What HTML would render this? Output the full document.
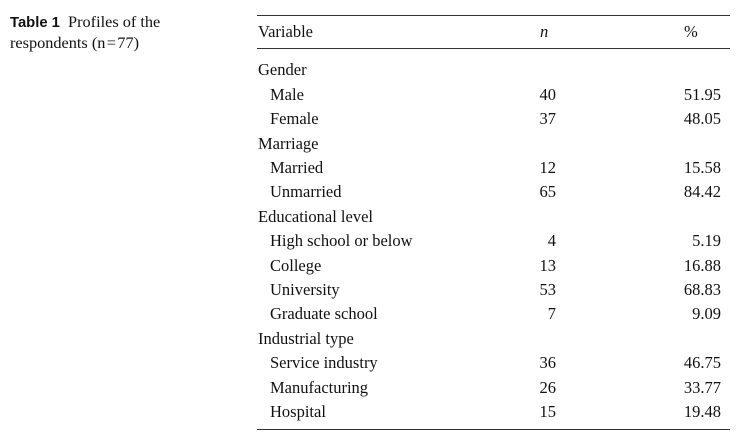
<!DOCTYPE html>
<html><head><meta charset="utf-8"><style>
body{margin:0;width:748px;height:446px;background:#fff;position:relative;overflow:hidden;font-family:"Liberation Serif",serif;font-size:16.5px;color:#111}
.t{position:absolute;height:20px;line-height:20px;white-space:nowrap}
.r{text-align:right}
.rule{position:absolute;left:257px;width:473px;height:1.4px;background:#333}
.cap{position:absolute;left:10px;top:12px;font-size:16.3px;line-height:20px}
.cap b{font-family:"Liberation Sans",sans-serif;font-size:14.8px}
</style></head><body>
<div class="cap"><b>Table 1</b>&nbsp;&nbsp;Profiles of the<br>respondents (n&#8202;=&#8202;77)</div>
<div class="rule" style="top:15px"></div>
<div class="rule" style="top:48px"></div>
<div class="rule" style="top:429px"></div>
<div class="t" style="left:258px;top:22px">Variable</div>
<div class="t" style="left:540px;top:22px;font-style:italic">n</div>
<div class="t" style="left:684px;top:22px">%</div>

<div class="t" style="left:258px;top:60px">Gender</div>
<div class="t" style="left:270px;top:85px">Male</div>
<div class="t" style="left:270px;top:109px">Female</div>
<div class="t" style="left:258px;top:134px">Marriage</div>
<div class="t" style="left:270px;top:158px">Married</div>
<div class="t" style="left:270px;top:182px">Unmarried</div>
<div class="t" style="left:258px;top:207px">Educational level</div>
<div class="t" style="left:270px;top:231px">High school or below</div>
<div class="t" style="left:270px;top:256px">College</div>
<div class="t" style="left:270px;top:280px">University</div>
<div class="t" style="left:270px;top:304px">Graduate school</div>
<div class="t" style="left:258px;top:329px">Industrial type</div>
<div class="t" style="left:270px;top:353px">Service industry</div>
<div class="t" style="left:270px;top:378px">Manufacturing</div>
<div class="t" style="left:270px;top:402px">Hospital</div>

<div class="t r" style="right:192px;top:85px">40</div>
<div class="t r" style="right:192px;top:109px">37</div>
<div class="t r" style="right:192px;top:158px">12</div>
<div class="t r" style="right:192px;top:182px">65</div>
<div class="t r" style="right:192px;top:231px">4</div>
<div class="t r" style="right:192px;top:256px">13</div>
<div class="t r" style="right:192px;top:280px">53</div>
<div class="t r" style="right:192px;top:304px">7</div>
<div class="t r" style="right:192px;top:353px">36</div>
<div class="t r" style="right:192px;top:378px">26</div>
<div class="t r" style="right:192px;top:402px">15</div>

<div class="t r" style="right:27px;top:85px">51.95</div>
<div class="t r" style="right:27px;top:109px">48.05</div>
<div class="t r" style="right:27px;top:158px">15.58</div>
<div class="t r" style="right:27px;top:182px">84.42</div>
<div class="t r" style="right:27px;top:231px">5.19</div>
<div class="t r" style="right:27px;top:256px">16.88</div>
<div class="t r" style="right:27px;top:280px">68.83</div>
<div class="t r" style="right:27px;top:304px">9.09</div>
<div class="t r" style="right:27px;top:353px">46.75</div>
<div class="t r" style="right:27px;top:378px">33.77</div>
<div class="t r" style="right:27px;top:402px">19.48</div>
</body></html>
